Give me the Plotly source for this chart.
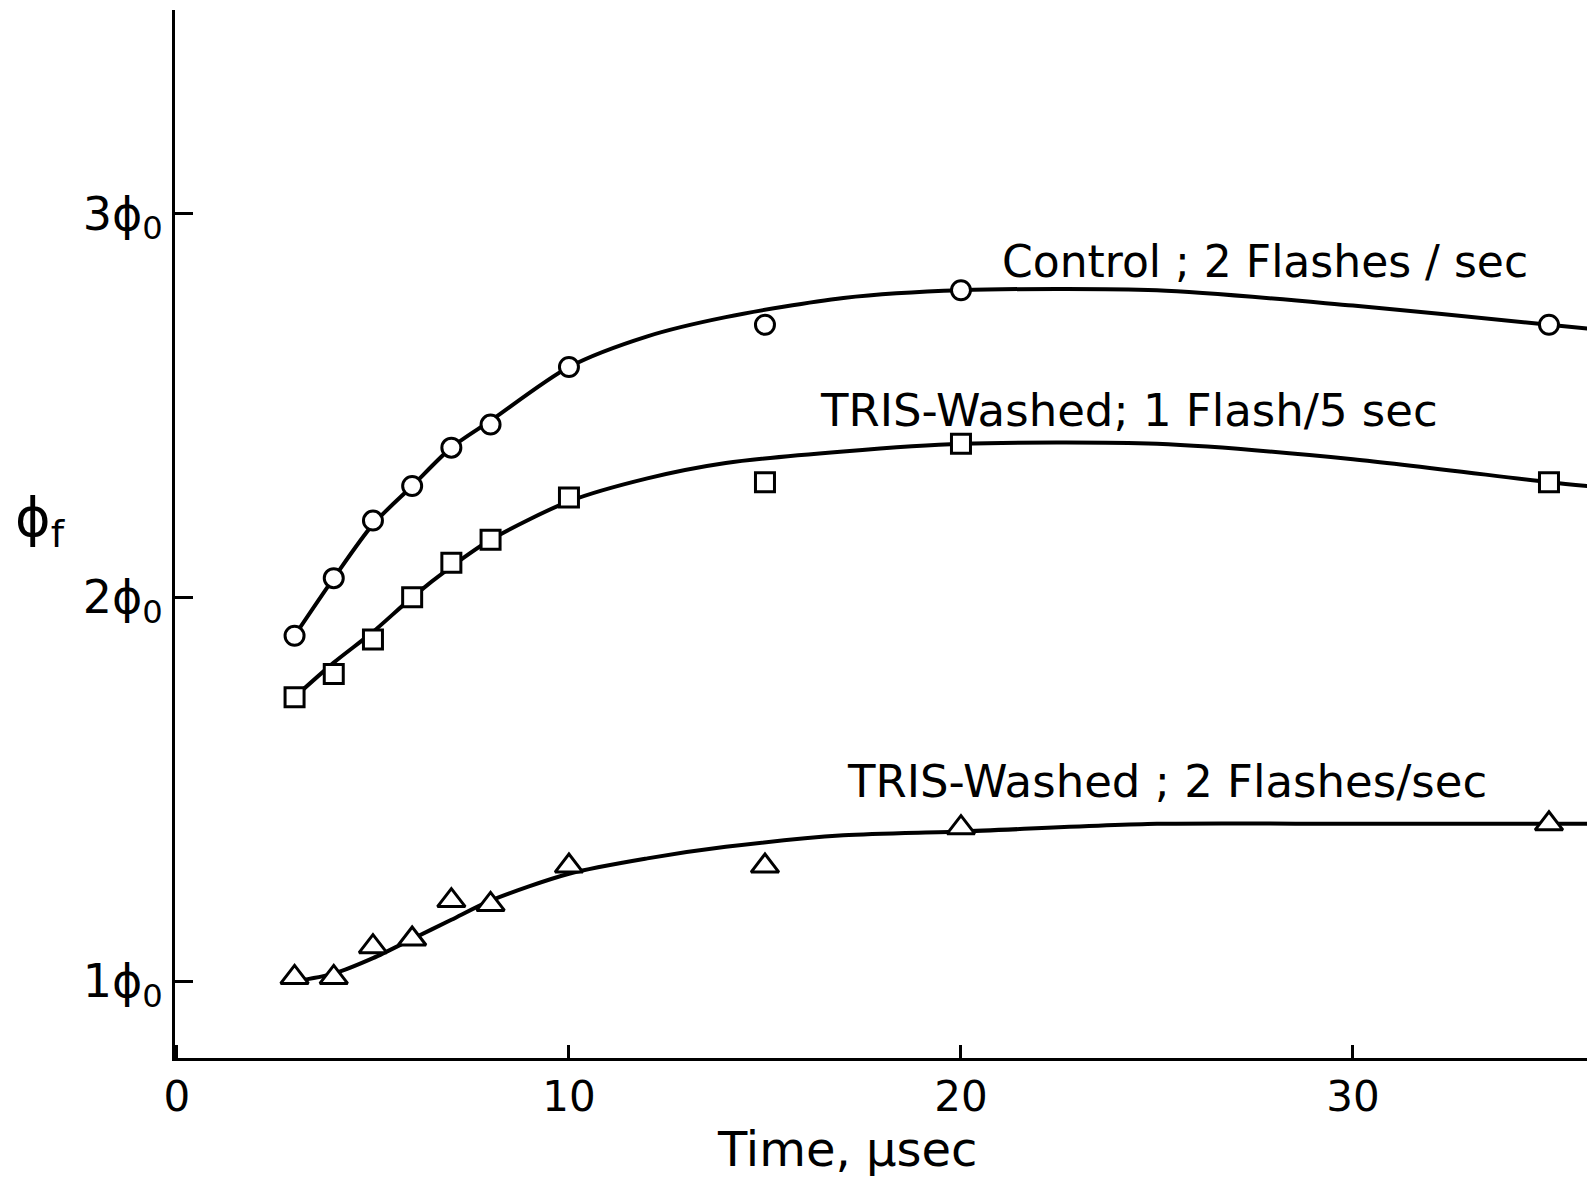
import plotly.graph_objects as go

# ---- data ----
time_pts = [3, 4, 5, 6, 7, 8, 10, 15, 20, 35]
control_pts = [1.90, 2.05, 2.20, 2.29, 2.39, 2.45, 2.60, 2.71, 2.80, 2.71]
tris_slow_pts = [1.74, 1.80, 1.89, 2.00, 2.09, 2.15, 2.26, 2.30, 2.40, 2.30]
tris_fast_pts = [1.01, 1.01, 1.09, 1.11, 1.21, 1.20, 1.30, 1.30, 1.40, 1.41]

curve_t = [3, 4, 5, 6, 7, 8, 10, 12, 14, 17, 20, 25, 30, 35, 36]
control_curve = [1.90, 2.05, 2.19, 2.29, 2.39, 2.46, 2.60, 2.68, 2.73, 2.78, 2.80, 2.80, 2.76, 2.71, 2.70]
tris_slow_curve = [1.74, 1.83, 1.91, 2.00, 2.08, 2.15, 2.25, 2.31, 2.35, 2.38, 2.40, 2.40, 2.36, 2.30, 2.29]
tris_fast_curve = [1.00, 1.02, 1.06, 1.11, 1.16, 1.21, 1.28, 1.32, 1.35, 1.38, 1.39, 1.41, 1.41, 1.41, 1.41]

labels = ["Control ; 2 Flashes / sec", "TRIS-Washed; 1 Flash/5 sec", "TRIS-Washed ; 2 Flashes/sec"]
label_x = [21.0, 16.35, 17.04]
label_y = [2.875, 2.488, 1.521]
label_size = [44, 45, 45]

x_ticks = [0, 10, 20, 30]
y_ticks = [1, 2, 3]
y_ticktext = ["1ϕ<sub>0</sub>", "2ϕ<sub>0</sub>", "3ϕ<sub>0</sub>"]

FONT = "DejaVu Sans"

fig = go.Figure()
for cy in [control_curve, tris_slow_curve, tris_fast_curve]:
    fig.add_trace(go.Scatter(x=curve_t, y=cy, mode="lines",
                             line=dict(color="black", width=4, shape="spline", smoothing=0.8),
                             hoverinfo="skip", showlegend=False))
for py, sym, sz in [(control_pts, "circle", 19), (tris_slow_pts, "square", 19), (tris_fast_pts, "triangle-up", 24)]:
    fig.add_trace(go.Scatter(x=time_pts, y=py, mode="markers",
                             marker=dict(symbol=sym, size=sz, color="white",
                                         line=dict(color="black", width=3)),
                             showlegend=False, cliponaxis=False))

for t, lx, ly, fs in zip(labels, label_x, label_y, label_size):
    fig.add_annotation(x=lx, y=ly, text=t, showarrow=False, xanchor="left", yanchor="middle",
                       font=dict(family=FONT, size=fs, color="black"))

fig.add_annotation(xref="paper", x=-0.095, y=2.198, text="ϕ<sub>f</sub>", showarrow=False,
                   xanchor="center", yanchor="middle", font=dict(family=FONT, size=54, color="black"))
fig.add_annotation(x=17.1, yref="paper", y=-0.087, text="Time, µsec", showarrow=False,
                   xanchor="center", yanchor="middle", font=dict(family=FONT, size=48, color="black"))

fig.update_xaxes(range=[-0.05, 35.97], tickvals=x_ticks, ticktext=[str(v) for v in x_ticks],
                 ticks="inside", ticklen=13, tickwidth=3, tickcolor="black",
                 showline=True, linecolor="black", linewidth=3, showgrid=False, zeroline=False,
                 tickfont=dict(family=FONT, size=42, color="black"))
fig.update_yaxes(range=[0.80, 3.53], tickvals=y_ticks, ticktext=y_ticktext,
                 ticks="inside", ticklen=18, tickwidth=3, tickcolor="black",
                 showline=True, linecolor="black", linewidth=3, showgrid=False, zeroline=False,
                 tickfont=dict(family=FONT, size=46, color="black"))

fig.update_layout(width=1587, height=1184, margin=dict(l=175, r=0, t=10, b=126),
                  plot_bgcolor="white", paper_bgcolor="white")

fig.write_html("out.html")
